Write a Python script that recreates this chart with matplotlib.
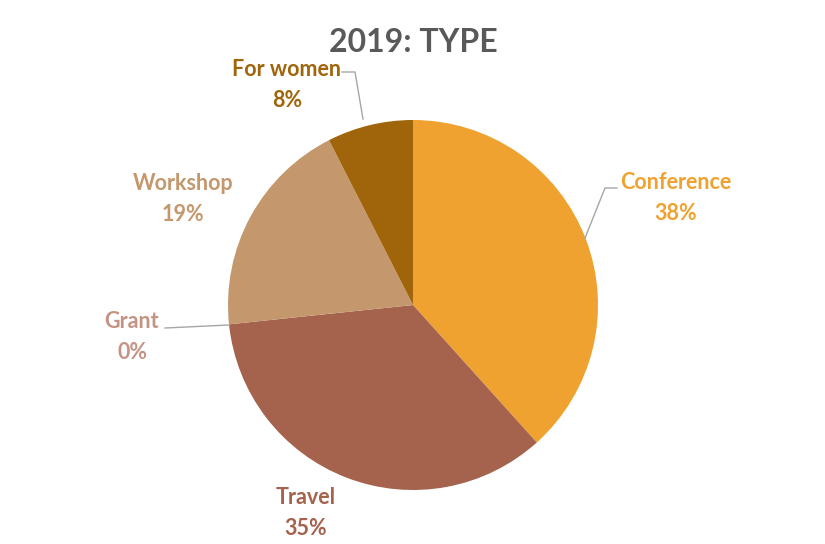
import matplotlib.pyplot as plt

labels = ["Conference", "Travel", "Grant", "Workshop", "For women"]
counts = [46, 42, 0, 23, 9]
pct_labels = ["38%", "35%", "0%", "19%", "8%"]
colors = ["#EFA22F", "#A5624D", "#C49384", "#C4976C", "#A0650A"]

W, H = 825, 544
fig = plt.figure(figsize=(W / 100, H / 100), dpi=100)
ax = fig.add_axes([0, 0, 1, 1])

cx, cy, r = 413, H - 305, 185
ax.pie(counts, colors=colors, startangle=90, counterclock=False,
       center=(cx, cy), radius=r, frame=True,
       wedgeprops=dict(linewidth=0))
ax.set_xlim(0, W)
ax.set_ylim(0, H)
ax.set_aspect("equal")
ax.axis("off")

font = ["Lato", "DejaVu Sans"]

# label positions in pixels (top-left origin)
label_pos = {
    "Conference": (676, 198),
    "Travel": (306, 513),
    "Grant": (132, 337),
    "Workshop": (183, 199),
    "For women": (287, 85),
}
for name, pct, col in zip(labels, pct_labels, colors):
    x, y = label_pos[name]
    ax.text(x, H - y, f"{name}\n{pct}", ha="center", va="center",
            fontsize=15.5, fontweight="bold", color=col, family=font,
            linespacing=1.6)

# leader lines
lc = "#A6A6A6"
leaders = [
    [(342, 72), (355, 72), (363, 119)],
    [(617, 188), (605, 188), (585, 238)],
    [(165, 328), (229, 325)],
]
for pts in leaders:
    xs = [p[0] for p in pts]
    ys = [H - p[1] for p in pts]
    ax.plot(xs, ys, color=lc, linewidth=1)

ax.text(413, H - 42, "2019: TYPE", ha="center", va="center",
        fontsize=23, fontweight="bold", color="#595959", family=font)

fig.savefig("out.png", dpi=100)
